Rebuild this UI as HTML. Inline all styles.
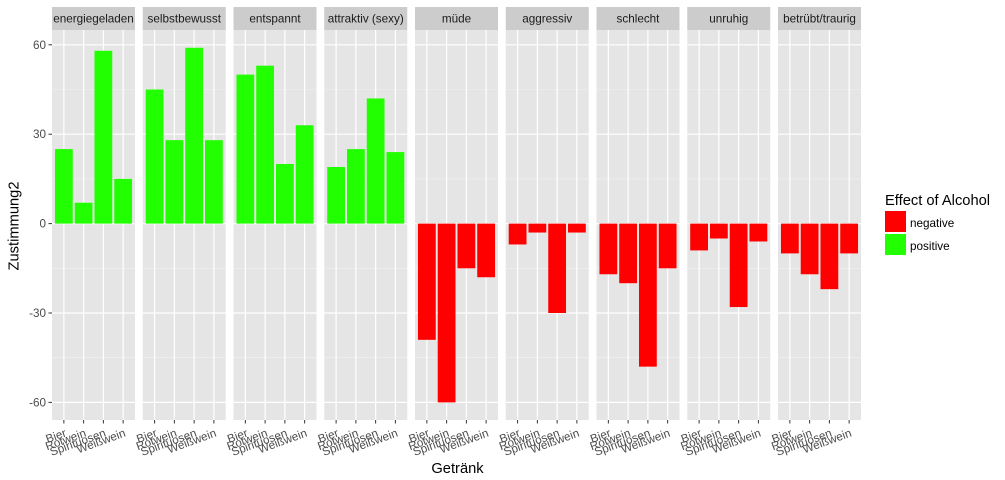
<!DOCTYPE html>
<html lang="de">
<head>
<meta charset="utf-8">
<title>Effect of Alcohol</title>
<style>
html,body{margin:0;padding:0;background:#fff;width:1005px;height:480px;overflow:hidden}
svg{display:block;font-family:"Liberation Sans",Arial,sans-serif}
</style>
</head>
<body>
<svg id="chart" width="1005" height="480" viewBox="0 0 1005 480" xmlns="http://www.w3.org/2000/svg">
  <rect x="0" y="0" width="1005" height="480" fill="#fff"/>
  <text transform="translate(18.5,226) rotate(-90)" text-anchor="middle" font-size="14.7" fill="#000">Zustimmung2</text>
  <text x="457.5" y="473" text-anchor="middle" font-size="14.7" fill="#000">Getränk</text>
  <g>
    <text x="885" y="205" font-size="14.7" fill="#000">Effect of Alcohol</text>
    <rect x="885" y="211" width="21" height="21" fill="#ff0000"/>
    <text x="910" y="227" font-size="11.7" fill="#000">negative</text>
    <rect x="885" y="234" width="21" height="21" fill="#22ff00"/>
    <text x="910" y="250" font-size="11.7" fill="#000">positive</text>
  </g>
</svg>
<script>
const facets = ['energiegeladen','selbstbewusst','entspannt','attraktiv (sexy)','müde','aggressiv','schlecht','unruhig','betrübt/traurig'];
const categories = ['Bier','Rotwein','Spirituosen','Weißwein'];
const energiegeladenValues = [25,7,58,15];
const selbstbewusstValues = [45,28,59,28];
const entspanntValues = [50,53,20,33];
const attraktivValues = [19,25,42,24];
const muedeValues = [-39,-60,-15,-18];
const aggressivValues = [-7,-3,-30,-3];
const schlechtValues = [-17,-20,-48,-15];
const unruhigValues = [-9,-5,-28,-6];
const betruebtValues = [-10,-17,-22,-10];
const seriesValues = [energiegeladenValues,selbstbewusstValues,entspanntValues,attraktivValues,muedeValues,aggressivValues,schlechtValues,unruhigValues,betruebtValues];
const yTicks = [60,30,0,-30,-60];
const yMinorTicks = [45,15,-15,-45];

const svg = document.getElementById('chart');
const NS = 'http://www.w3.org/2000/svg';
const panelTop = 30, panelH = 390, panelW = 83, panelStart = 52, panelStep = 90.75;
const zeroY = 223.6, unitY = 2.98;
const unitX = panelW / 4.2;
const yScale = function (v) { return zeroY - v * unitY; };
const xScale = function (p, i) { return panelStart + p * panelStep + (0.6 + i) * unitX; };

function mk(tag, attrs, parent) {
  const el = document.createElementNS(NS, tag);
  for (const k in attrs) el.setAttribute(k, attrs[k]);
  (parent || svg).appendChild(el);
  return el;
}

yTicks.forEach(function (t) {
  const tick = mk('line', {x1:48.5, x2:52, y1:yScale(t), y2:yScale(t), stroke:'#333', 'stroke-width':1});
  
  
  const label = mk('text', {x:46, y:yScale(t)+4, 'text-anchor':'end', 'font-size':11.7, fill:'#4d4d4d'});
  
  
  label.textContent = String(t);
});

facets.forEach(function (name, p) {
  const left = panelStart + p * panelStep;
  const g = mk('g', {});
  
  

  const strip = mk('rect', {x:left, y:7, width:panelW, height:23, fill:'#cccccc'}, g);
  
  
  const stripText = mk('text', {x:left+panelW/2, y:22.5, 'text-anchor':'middle', 'font-size':11.7, fill:'#1a1a1a'}, g);
  
  
  stripText.textContent = name;

  const bg = mk('rect', {x:left, y:panelTop, width:panelW, height:panelH, fill:'#e5e5e5'}, g);
  
  

  yMinorTicks.forEach(function (t) {
    const line = mk('line', {x1:left, x2:left+panelW, y1:yScale(t), y2:yScale(t), stroke:'#f2f2f2', 'stroke-width':0.6}, g);
    
    
  });
  yTicks.forEach(function (t) {
    const line = mk('line', {x1:left, x2:left+panelW, y1:yScale(t), y2:yScale(t), stroke:'#fff', 'stroke-width':1.2}, g);
    
    
  });
  categories.forEach(function (c, i) {
    const x = xScale(p, i);
    const line = mk('line', {x1:x, x2:x, y1:panelTop, y2:panelTop+panelH, stroke:'#fff', 'stroke-width':1.2}, g);
    
    
  });

  seriesValues[p].forEach(function (v, i) {
    const w = 0.9 * unitX;
    const y0 = yScale(Math.max(v, 0)), y1 = yScale(Math.min(v, 0));
    const bar = mk('rect', {x:xScale(p,i)-w/2, y:y0, width:w, height:y1-y0, fill: v < 0 ? '#ff0000' : '#22ff00'}, g);
    
    
  });

  categories.forEach(function (c, i) {
    const x = xScale(p, i);
    const tick = mk('line', {x1:x, x2:x, y1:panelTop+panelH, y2:panelTop+panelH+3.5, stroke:'#333', 'stroke-width':1}, g);
    
    
    const label = mk('text', {transform:'translate('+(x+3.2)+',436) rotate(-20)', 'text-anchor':'end', 'font-size':11.7, fill:'#4d4d4d'}, g);
    
    
    label.textContent = c;
  });
});
</script>
</body>
</html>
